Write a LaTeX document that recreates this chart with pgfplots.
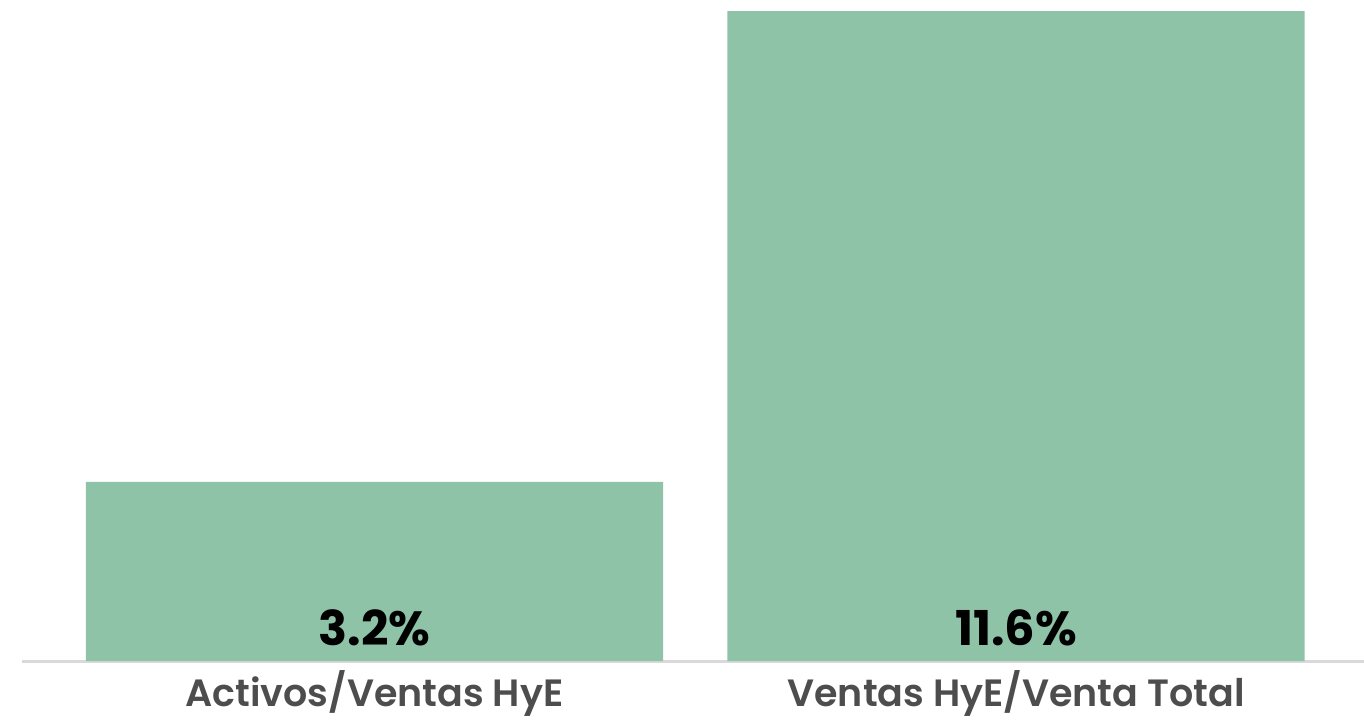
\documentclass[border=0pt]{standalone}
\usepackage{fontspec}
\setmainfont[BoldFont={Poppins SemiBold}]{Poppins}
\newfontfamily\heavy{Poppins Bold}
\usepackage{pgfplots}
\pgfplotsset{compat=1.18}
\definecolor{bargreen}{HTML}{8FC3A8}
\definecolor{basegray}{HTML}{D9D9D9}
\definecolor{labgray}{HTML}{4D4D4D}
\begin{document}
\begin{tikzpicture}
\useasboundingbox (0,0) rectangle (682pt,360pt);
\begin{axis}[
  at={(11pt,29.5pt)}, anchor=south west,
  scale only axis,
  width=671pt, height=330.5pt,
  xmin=-0.5495, xmax=1.5425,
  ymin=0, ymax=11.8,
  axis x line=bottom,
  axis y line=none,
  axis line style={draw=basegray, line width=1.5pt, -},
  xtick={0,1},
  xticklabels={Activos/Ventas HyE, Ventas HyE/Venta Total},
  x tick label style={font=\fontsize{19}{22}\selectfont\bfseries, text=labgray, yshift=-1pt},
  major tick length=0pt,
  clip=false,
]
\addplot[ybar, bar width=288.5pt, fill=bargreen, draw=none, bar shift=0pt] coordinates {(0,3.2) (1,11.6)};
\addplot[draw=none, mark=none, point meta=explicit symbolic,
  nodes near coords,
  every node near coord/.append style={anchor=south, yshift=4pt, font=\fontsize{24}{27}\selectfont\heavy, text=black}]
  coordinates {(0,0) [3.2\%] (1,0) [11.6\%]};
\end{axis}
\end{tikzpicture}
\end{document}
